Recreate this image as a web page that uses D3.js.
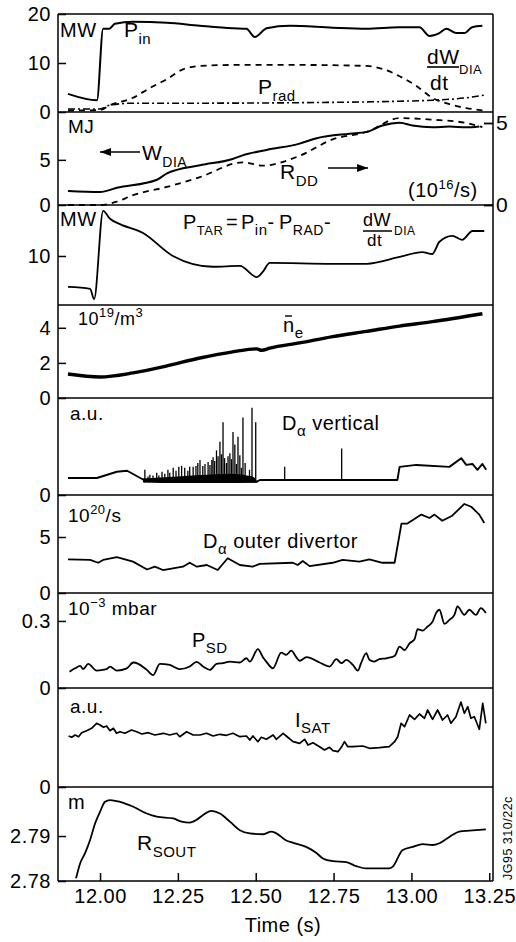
<!DOCTYPE html>
<html><head><meta charset="utf-8">
<script src="https://cdn.jsdelivr.net/npm/d3@7"></script>
<style>
body{margin:0;background:#fff;}
svg{display:block;}
text{font-family:"Liberation Sans",Arial,Helvetica,sans-serif;fill:#000;letter-spacing:0.5px;}
</style></head><body>
<svg id="c" width="516" height="942"></svg>
<script>
// ---------- data ----------
const xTicks = [12.00, 12.25, 12.50, 12.75, 13.00, 13.25];
const xTickLabels = ["12.00", "12.25", "12.50", "12.75", "13.00", "13.25"];

// panel 1 (MW)
const pIn = [[11.897,3.7],[11.990,2.4],[12.010,17.0],[12.030,17.0],[12.048,18.0],[12.106,18.4],[12.215,18.2],[12.320,17.6],[12.426,17.1],[12.470,17.0],[12.497,15.3],[12.535,17.1],[12.610,17.6],[12.747,17.2],[12.856,17.0],[12.960,17.3],[13.026,17.3],[13.058,15.5],[13.090,16.1],[13.112,17.0],[13.144,16.1],[13.170,16.1],[13.195,17.3],[13.228,17.6]];
const pRad = [[11.897,0.3],[12.000,0.4],[12.032,1.4],[12.106,2.9],[12.160,4.9],[12.215,6.7],[12.266,8.7],[12.321,9.4],[12.426,9.6],[12.641,9.6],[12.856,9.4],[12.907,8.8],[12.962,7.3],[13.016,5.3],[13.067,2.9],[13.122,1.6],[13.176,0.8],[13.234,0.3]];
const dWdt = [[11.897,0.6],[12.000,0.6],[12.032,1.4],[12.106,1.8],[12.321,1.8],[12.641,1.9],[12.962,2.2],[13.067,2.4],[13.176,2.9],[13.240,3.5]];
const p1Ticks = [0, 10, 20];

// panel 2 (MJ, right axis 1e16/s)
const wDia = [[11.897,1.56],[12.000,1.44],[12.054,1.9],[12.183,2.8],[12.215,3.5],[12.321,4.4],[12.426,5.1],[12.458,5.5],[12.535,6.1],[12.641,6.8],[12.696,7.4],[12.801,7.9],[12.856,8.1],[12.907,8.8],[12.962,9.1],[13.003,8.8],[13.067,8.6],[13.122,8.7],[13.176,8.6],[13.218,8.7]];
const rDD = [[11.897,0],[12.000,0],[12.054,0.2],[12.106,0.6],[12.215,1.1],[12.321,1.7],[12.458,2.6],[12.522,2.4],[12.641,3.0],[12.747,4.0],[12.856,4.45],[12.962,5.3],[13.067,5.2],[13.176,5.0],[13.228,4.75]];
const p2Ticks = [0, 5];
const p2RightTicks = [0, 5];

// panel 3 (P_TAR, MW)
const pTar = [[11.897,3.7],[11.968,3.3],[11.981,1.2],[12.010,19.2],[12.032,17.6],[12.064,16.5],[12.138,14.7],[12.234,10.0],[12.362,7.8],[12.449,8.0],[12.503,5.7],[12.522,6.7],[12.545,8.6],[12.747,8.4],[12.856,8.4],[12.962,9.8],[13.035,10.8],[13.067,10.4],[13.090,12.9],[13.131,14.1],[13.163,13.3],[13.196,15.1],[13.234,15.1]];
const p3Ticks = [10];

// panel 4 (n_e, 1e19/m3)
const neBar = [[11.897,1.37],[12.000,1.2],[12.106,1.43],[12.215,1.83],[12.321,2.28],[12.426,2.63],[12.503,2.80],[12.519,2.72],[12.545,2.84],[12.641,3.14],[12.747,3.5],[12.856,3.8],[12.962,4.1],[13.067,4.35],[13.228,4.8]];
const p4Ticks = [0, 2, 4];

// panel 5 (D-alpha vertical, a.u.)
const daVertBase = [[11.897,1.75],[11.990,1.75],[12.054,2.4],[12.087,2.5],[12.138,1.6],[12.192,1.35],[12.503,1.35],[12.513,1.55],[12.955,1.55],[12.962,2.9],[13.016,3.1],[13.122,2.9],[13.160,3.8],[13.176,3.1],[13.196,3.2],[13.212,2.6],[13.228,3.2],[13.240,2.6]];
const daVertBand = [[12.138,1.3,1.7],[12.224,1.25,1.85],[12.321,1.25,2.05],[12.417,1.25,2.2],[12.490,1.3,1.9],[12.503,1.3,1.5]];
const daVertSpikes = [[12.144,1.3,2.6],[12.154,1.3,1.9],[12.160,1.3,2.1],[12.170,1.3,2.0],[12.182,1.3,2.3],[12.189,1.3,2.0],[12.199,1.3,2.4],[12.208,1.3,2.2],[12.218,1.3,2.6],[12.224,1.3,2.3],[12.235,1.3,2.8],[12.244,1.3,2.5],[12.253,1.3,2.9],[12.262,1.3,3.0],[12.272,1.3,2.8],[12.282,1.3,2.5],[12.288,1.3,2.9],[12.299,1.3,2.9],[12.308,1.3,3.0],[12.314,1.3,3.3],[12.321,1.3,3.6],[12.330,1.3,3.0],[12.337,1.3,3.2],[12.347,1.3,3.4],[12.353,1.3,3.1],[12.359,1.3,3.6],[12.363,1.3,3.9],[12.368,1.3,3.5],[12.374,1.3,4.6],[12.379,1.3,4.0],[12.385,1.3,5.5],[12.390,1.3,4.2],[12.395,1.3,7.5],[12.400,1.3,3.8],[12.406,1.3,3.3],[12.411,1.3,4.0],[12.417,1.3,4.3],[12.422,1.3,3.7],[12.427,1.3,6.5],[12.433,1.3,5.2],[12.438,1.3,3.2],[12.443,1.3,6.0],[12.449,1.3,4.1],[12.454,1.3,2.8],[12.459,1.3,8.0],[12.466,1.3,3.3],[12.480,1.3,2.6],[12.488,1.3,9.0],[12.500,1.3,7.5],[12.593,1.55,2.9],[12.776,1.55,4.8]];
const p5Ticks = [0];

// panel 6 (D-alpha outer divertor, 1e20/s)
const daDiv = [[11.897,3.0],[11.968,2.95],[11.994,2.7],[12.010,2.95],[12.054,3.2],[12.106,2.8],[12.151,2.1],[12.176,2.35],[12.202,2.05],[12.266,2.35],[12.288,2.7],[12.311,2.35],[12.343,2.5],[12.378,2.05],[12.410,3.1],[12.449,2.5],[12.490,2.35],[12.513,2.6],[12.619,2.7],[12.635,2.5],[12.651,2.85],[12.673,2.4],[12.747,2.7],[12.779,2.95],[12.833,2.8],[12.865,3.0],[12.907,2.7],[12.946,2.7],[12.968,6.2],[12.987,6.2],[13.032,7.0],[13.058,6.7],[13.074,7.0],[13.099,6.45],[13.131,6.9],[13.170,7.95],[13.192,7.7],[13.218,7.0],[13.234,6.25]];
const p6Ticks = [0, 5];

// panel 7 (P_SD, 1e-3 mbar)
const pSD = [[11.902,0.073],[11.920,0.088],[11.936,0.099],[11.946,0.085],[11.962,0.108],[11.989,0.078],[12.021,0.084],[12.032,0.096],[12.054,0.078],[12.086,0.088],[12.107,0.114],[12.123,0.108],[12.150,0.081],[12.171,0.058],[12.192,0.108],[12.224,0.103],[12.256,0.084],[12.288,0.096],[12.310,0.117],[12.331,0.096],[12.353,0.081],[12.374,0.108],[12.395,0.111],[12.417,0.118],[12.449,0.114],[12.470,0.133],[12.481,0.118],[12.507,0.174],[12.523,0.138],[12.534,0.118],[12.555,0.088],[12.582,0.158],[12.598,0.148],[12.614,0.167],[12.630,0.138],[12.641,0.122],[12.663,0.138],[12.705,0.114],[12.737,0.096],[12.759,0.129],[12.775,0.111],[12.791,0.126],[12.812,0.103],[12.828,0.078],[12.839,0.114],[12.855,0.156],[12.865,0.126],[12.881,0.118],[12.897,0.129],[12.919,0.133],[12.946,0.143],[12.962,0.185],[12.978,0.170],[12.994,0.200],[13.010,0.218],[13.020,0.263],[13.036,0.257],[13.052,0.275],[13.068,0.297],[13.079,0.335],[13.090,0.350],[13.106,0.287],[13.122,0.305],[13.138,0.327],[13.148,0.365],[13.170,0.327],[13.186,0.350],[13.207,0.327],[13.223,0.357],[13.239,0.335]];
const p7Ticks = [0, 0.3];

// panel 8 (I_SAT, a.u.)
const iSat = [[11.899,5.1],[11.909,4.97],[11.920,5.2],[11.931,5.03],[11.941,5.43],[11.957,5.63],[11.973,5.87],[11.989,6.37],[12.000,6.2],[12.011,5.97],[12.021,6.1],[12.032,5.63],[12.043,5.87],[12.053,5.37],[12.064,5.53],[12.080,5.37],[12.101,5.7],[12.118,5.53],[12.134,5.3],[12.155,5.43],[12.176,5.2],[12.203,5.37],[12.224,5.2],[12.246,5.37],[12.256,5.03],[12.278,5.53],[12.299,5.2],[12.321,5.2],[12.342,5.37],[12.363,5.1],[12.385,5.27],[12.406,5.17],[12.427,5.37],[12.449,5.03],[12.470,5.1],[12.481,4.7],[12.491,5.1],[12.507,4.53],[12.518,4.97],[12.534,4.77],[12.556,5.2],[12.566,4.77],[12.588,5.37],[12.598,5.1],[12.620,4.53],[12.641,4.37],[12.657,4.77],[12.668,4.2],[12.684,4.43],[12.705,4.03],[12.721,3.7],[12.737,3.97],[12.748,3.63],[12.764,3.53],[12.775,3.97],[12.785,4.53],[12.796,4.03],[12.812,4.03],[12.844,4.1],[12.865,3.87],[12.897,3.93],[12.929,4.03],[12.946,4.53],[12.956,5.03],[12.967,6.37],[12.978,6.03],[12.994,7.2],[13.010,6.77],[13.026,7.3],[13.042,6.87],[13.052,7.7],[13.068,6.77],[13.084,7.7],[13.100,6.7],[13.116,7.2],[13.127,6.37],[13.143,7.03],[13.159,8.5],[13.170,7.37],[13.181,8.03],[13.191,6.87],[13.202,7.03],[13.218,5.77],[13.229,8.37],[13.239,6.37]];
const p8Ticks = [0];

// panel 9 (R_SOUT, m)
const rSout = [[11.923,2.7806],[11.936,2.7839],[11.952,2.7862],[11.968,2.7891],[11.984,2.7928],[12.000,2.7954],[12.016,2.7976],[12.032,2.7980],[12.064,2.7976],[12.107,2.7965],[12.150,2.7950],[12.182,2.7943],[12.235,2.7939],[12.262,2.7932],[12.288,2.7930],[12.310,2.7936],[12.331,2.7947],[12.358,2.7956],[12.385,2.7950],[12.417,2.7932],[12.449,2.7913],[12.481,2.7906],[12.524,2.7904],[12.550,2.7910],[12.566,2.7906],[12.598,2.7890],[12.620,2.7885],[12.662,2.7876],[12.694,2.7863],[12.716,2.7850],[12.748,2.7844],[12.791,2.7842],[12.823,2.7833],[12.855,2.7828],[12.887,2.7828],[12.929,2.7828],[12.940,2.7832],[12.972,2.7869],[13.004,2.7876],[13.036,2.7882],[13.068,2.7880],[13.090,2.7884],[13.122,2.7898],[13.154,2.7910],[13.186,2.7912],[13.239,2.7915]];
const p9Ticks = [2.78, 2.79];

// ---------- layout ----------
const svg = d3.select("#c");
const L = 58, R = 493;
const bounds = [14, 112, 205, 305, 398, 495, 593, 688, 787, 881];
const x = d3.scaleLinear().domain([11.865, 13.262]).range([L, R]);
function ys(i, d0, d1) { return d3.scaleLinear().domain([d0, d1]).range([bounds[i + 1], bounds[i]]); }
const y1 = ys(0, 0, 20), y2 = ys(1, 0, 10.3), y2r = ys(1, 0, 5.67), y3 = ys(2, 0, 20.4),
      y4 = ys(3, 0, 5.3), y5 = ys(4, 0, 10), y6 = ys(5, 0, 8.75), y7 = ys(6, 0, 0.425),
      y8 = ys(7, 0, 9.9), y9 = ys(8, 2.78, 2.8009);

// frame
const frame = svg.append("g").attr("stroke", "#000").attr("stroke-width", 1.5).attr("fill", "none");
frame.append("line").attr("x1", L).attr("x2", L).attr("y1", bounds[0]).attr("y2", bounds[9]);
frame.append("line").attr("x1", R).attr("x2", R).attr("y1", bounds[0]).attr("y2", bounds[9]);
bounds.forEach(b => frame.append("line").attr("x1", L).attr("x2", R).attr("y1", b).attr("y2", b));

function fmt(v) { return v === 0.3 ? "0.3" : (Math.abs(v) < 1e-9 ? "0" : (v > 2 && v < 3 ? v.toFixed(2) : String(v))); }
function leftAxis(y, ticks, fs) {
  const g = svg.append("g").attr("transform", `translate(${L},0)`)
    .call(d3.axisLeft(y).tickValues(ticks).tickSize(-8).tickPadding(7).tickFormat(fmt));
  g.select(".domain").remove();
  g.selectAll(".tick line").attr("stroke", "#000").attr("stroke-width", 1.5);
  g.selectAll("text").attr("font-family", null).style("font-size", (fs || 20) + "px");
  return g;
}
leftAxis(y1, p1Ticks); leftAxis(y2, p2Ticks); leftAxis(y3, p3Ticks); leftAxis(y4, p4Ticks);
leftAxis(y5, p5Ticks); leftAxis(y6, p6Ticks); leftAxis(y7, p7Ticks); leftAxis(y8, p8Ticks); leftAxis(y9, p9Ticks);
// right axis panel 2
{
  const g = svg.append("g").attr("transform", `translate(${R},0)`)
    .call(d3.axisRight(y2r).tickValues(p2RightTicks).tickSize(-9).tickPadding(3).tickFormat(d => String(d)));
  g.select(".domain").remove();
  g.selectAll(".tick line").attr("stroke", "#000").attr("stroke-width", 1.8);
  g.selectAll("text").attr("font-family", null).style("font-size", "21px");
}
// bottom axis
{
  const g = svg.append("g").attr("transform", `translate(0,${bounds[9]})`)
    .call(d3.axisBottom(x).tickValues(xTicks).tickSize(-8).tickPadding(8).tickFormat((d, i) => xTickLabels[i]));
  g.select(".domain").remove();
  g.selectAll(".tick line").attr("stroke", "#000").attr("stroke-width", 1.5);
  g.selectAll("text").attr("font-family", null).style("font-size", "20px");
}

// traces
function trace(data, y, opts = {}) {
  const line = d3.line().x(d => x(d[0])).y(d => y(d[1])).curve(opts.curve || d3.curveMonotoneX);
  svg.append("path").datum(data).attr("d", line).attr("fill", "none").attr("stroke", "#000")
    .attr("stroke-width", opts.w || 1.8).attr("stroke-dasharray", opts.dash || null)
    .attr("stroke-linejoin", "round").attr("stroke-linecap", "butt");
}
trace(pIn, y1, { w: 2 });
trace(pRad, y1, { dash: "6,5", w: 1.8 });
trace(dWdt, y1, { dash: "7,3,2,3", w: 1.6 });
trace(wDia, y2, { w: 2 });
trace(rDD, y2r, { dash: "6,5", w: 1.8 });
trace(pTar, y3, { w: 1.8 });
trace(neBar, y4, { w: 3.4 });
// D-alpha vertical
svg.append("path").datum(daVertBand)
  .attr("d", d3.area().x(d => x(d[0])).y0(d => y5(d[1])).y1(d => y5(d[2])).curve(d3.curveMonotoneX))
  .attr("fill", "#000");
trace(daVertBase, y5, { w: 1.9, curve: d3.curveLinear });
svg.append("g").selectAll("line").data(daVertSpikes).join("line")
  .attr("x1", d => x(d[0])).attr("x2", d => x(d[0]))
  .attr("y1", d => y5(d[1])).attr("y2", d => y5(d[2]))
  .attr("stroke", "#000").attr("stroke-width", 1.3);
trace(daDiv, y6, { w: 1.8, curve: d3.curveLinear });
trace(pSD, y7, { w: 1.8 });
trace(iSat, y8, { w: 1.7, curve: d3.curveLinear });
trace(rSout, y9, { w: 1.8 });

// labels
// parts: [text, kind ('sub'|'sup'|undefined), fontSize, absolute x (optional)]
function label(x0, y0, parts, size, anchor) {
  const t = svg.append("text").attr("x", x0).attr("y", y0).style("font-size", size + "px");
  if (anchor) t.attr("text-anchor", anchor);
  let cur = 0;
  parts.forEach(p => {
    const [str, kind, fs, ax] = p;
    const target = kind === "sub" ? size * 0.32 : kind === "sup" ? -size * 0.42 : 0;
    const ts = t.append("tspan").text(str).attr("dy", target - cur)
      .style("font-size", (fs || (kind ? size * 0.7 : size)) + "px");
    if (ax !== undefined) ts.attr("x", ax);
    cur = target;
  });
  return t;
}
function hline(x1, x2, yy, w) {
  svg.append("line").attr("x1", x1).attr("x2", x2).attr("y1", yy).attr("y2", yy).attr("stroke", "#000").attr("stroke-width", w || 1.5);
}
function arrow(x1, x2, yy) {
  hline(x1, x2, yy, 1.6);
  const dir = x2 > x1 ? 1 : -1;
  svg.append("path").attr("d", `M${x2},${yy} L${x2 - dir * 11},${yy - 4} L${x2 - dir * 11},${yy + 4} Z`).attr("fill", "#000");
}
// panel 1
label(60, 37, [["MW"]], 20);
label(124, 37, [["P"], ["in", "sub", 15]], 21);
label(258, 94, [["P"], ["rad", "sub", 15]], 21);
label(427, 64, [["dW"]], 21);
hline(427, 459, 67, 1.6);
label(430, 90, [["dt"]], 21);
label(459, 74, [["DIA"]], 13);
// panel 2
label(68, 133, [["MJ"]], 19);
label(142, 160, [["W"], ["DIA", "sub", 14]], 21);
arrow(140, 100, 152);
label(280, 179, [["R"], ["DD", "sub", 15]], 21);
arrow(328, 368, 168);
label(408, 197, [["(10"], ["16", "sup", 13], ["/s)"]], 20);
// panel 3
label(60, 226, [["MW"]], 20);
label(183, 229, [["P"], ["TAR", "sub", 13], ["=", undefined, 20, 226], ["P", undefined, 20, 241],
  ["in", "sub", 15], ["-"], ["P", undefined, 20, 279], ["RAD", "sub", 14], ["-"]], 20);
label(363, 226, [["dW"]], 18);
hline(363, 392, 231, 1.5);
label(367, 246, [["dt"]], 17);
label(394, 235, [["DIA"]], 12);
// panel 4
label(78, 325, [["10"], ["19", "sup", 13], ["/m"], ["3", "sup", 13]], 18);
label(283, 332, [["n"], ["e", "sub", 15]], 20);
hline(285, 292, 316, 1.4);
// panel 5
label(70, 420, [["a.u."]], 19);
label(282, 430, [["D"], ["α", "sub", 15], [" vertical"]], 20);
// panel 6
label(68, 522, [["10"], ["20", "sup", 13], ["/s"]], 19);
label(203, 548, [["D"], ["α", "sub", 15], [" outer divertor"]], 20);
// panel 7
label(68, 615, [["10"], ["−3", "sup", 13], [" mbar"]], 19);
label(192, 647, [["P"], ["SD", "sub", 15]], 20);
// panel 8
label(70, 713, [["a.u."]], 19);
label(295, 727, [["I"], ["SAT", "sub", 15]], 20);
// panel 9
label(68, 809, [["m"]], 20);
label(137, 850, [["R"], ["SOUT", "sub", 15]], 21);
// axis title and code
label(283, 932, [["Time (s)"]], 20, "middle");
svg.append("text").attr("transform", "translate(512,880) rotate(-90)").style("font-size", "12.5px").text("JG95 310/22c");
</script>
</body></html>
